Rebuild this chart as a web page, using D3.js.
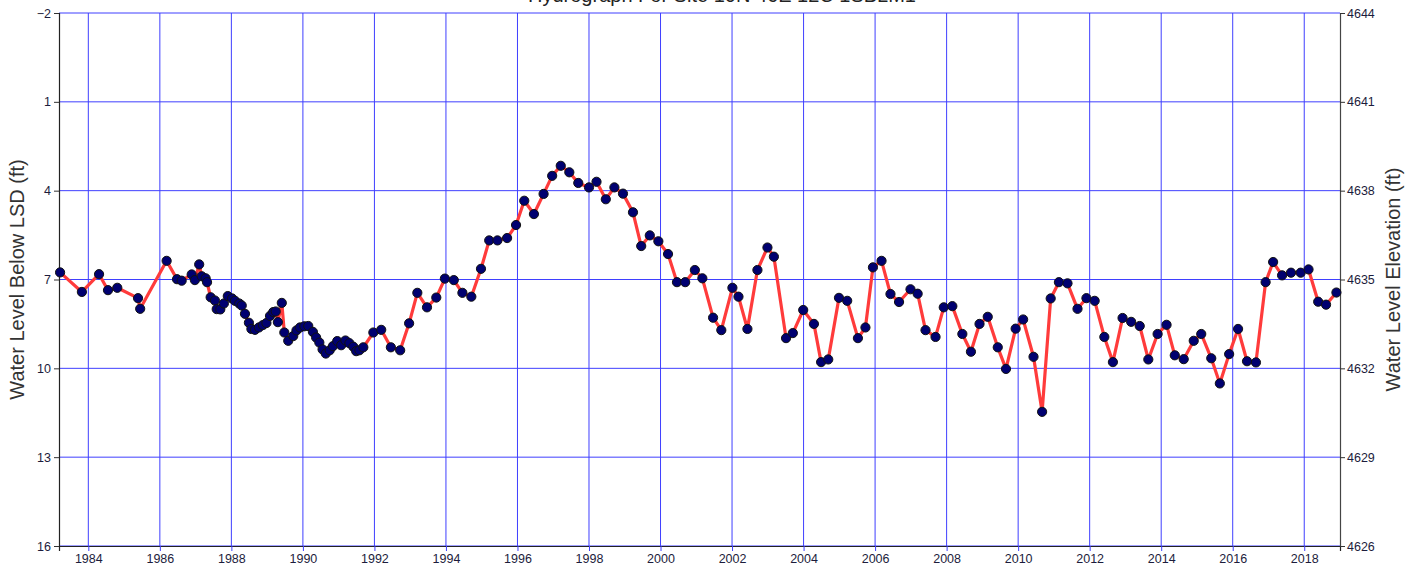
<!DOCTYPE html>
<html>
<head>
<meta charset="utf-8">
<script src="https://cdn.jsdelivr.net/npm/d3@7"></script>
<style>
  body { margin: 0; background: #fff; }
  text { font-family: "Liberation Sans", Arial, sans-serif; }
</style>
</head>
<body>
<div id="chart"></div>
<script>
const title = "Hydrograph For Site 10N 46E 12C 1SBLM1";
const yLabelLeft = "Water Level Below LSD (ft)";
const yLabelRight = "Water Level Elevation (ft)";
const xTicks = [1984, 1986, 1988, 1990, 1992, 1994, 1996, 1998, 2000, 2002, 2004, 2006, 2008, 2010, 2012, 2014, 2016, 2018];
const depthTicks = [-2, 1, 4, 7, 10, 13, 16];
const elevTicks = [4644, 4641, 4638, 4635, 4632, 4629, 4626];

// decimal year of each measurement
const years = [
  1983.21, 1983.82, 1984.30, 1984.55, 1984.81, 1985.39, 1985.45, 1986.19, 1986.48, 1986.61,
  1986.89, 1986.98, 1987.10, 1987.17, 1987.28, 1987.32, 1987.42, 1987.54, 1987.59, 1987.69,
  1987.79, 1987.90, 1988.02, 1988.10, 1988.22, 1988.29, 1988.38, 1988.49, 1988.56, 1988.66,
  1988.77, 1988.88, 1988.98, 1989.08, 1989.17, 1989.24, 1989.30, 1989.41, 1989.48, 1989.59,
  1989.73, 1989.82, 1989.92, 1990.04, 1990.15, 1990.28, 1990.37, 1990.46, 1990.55, 1990.64,
  1990.75, 1990.84, 1990.96, 1991.07, 1991.19, 1991.30, 1991.41, 1991.49, 1991.58, 1991.69,
  1991.97, 1992.19, 1992.46, 1992.72, 1992.97, 1993.20, 1993.47, 1993.73, 1993.97, 1994.22,
  1994.46, 1994.71, 1994.98, 1995.21, 1995.44, 1995.71, 1995.96, 1996.19, 1996.46, 1996.73,
  1996.97, 1997.21, 1997.45, 1997.70, 1998.00, 1998.21, 1998.47, 1998.71, 1998.95, 1999.23,
  1999.46, 1999.70, 1999.94, 2000.21, 2000.46, 2000.69, 2000.96, 2001.17, 2001.47, 2001.70,
  2002.01, 2002.18, 2002.43, 2002.71, 2002.99, 2003.17, 2003.51, 2003.70, 2003.99, 2004.29,
  2004.49, 2004.69, 2004.99, 2005.22, 2005.52, 2005.73, 2005.94, 2006.18, 2006.43, 2006.67,
  2006.99, 2007.19, 2007.41, 2007.69, 2007.92, 2008.16, 2008.44, 2008.68, 2008.92, 2009.15,
  2009.43, 2009.66, 2009.93, 2010.14, 2010.43, 2010.67, 2010.91, 2011.14, 2011.38, 2011.66,
  2011.91, 2012.14, 2012.41, 2012.65, 2012.92, 2013.16, 2013.40, 2013.64, 2013.90, 2014.15,
  2014.38, 2014.63, 2014.91, 2015.12, 2015.40, 2015.64, 2015.90, 2016.15, 2016.40, 2016.65,
  2016.92, 2017.13, 2017.38, 2017.63, 2017.90, 2018.12, 2018.39, 2018.61, 2018.90
];

// water level below land surface (ft)
const depths = [
  6.76, 7.42, 6.82, 7.36, 7.28, 7.63, 7.99, 6.37, 6.99, 7.04,
  6.83, 7.02, 6.49, 6.89, 6.96, 7.09, 7.60, 7.71, 8.00, 8.01,
  7.81, 7.56, 7.64, 7.72, 7.81, 7.88, 8.16, 8.46, 8.67, 8.70,
  8.62, 8.54, 8.47, 8.23, 8.10, 8.08, 8.44, 7.79, 8.79, 9.07,
  8.91, 8.72, 8.62, 8.58, 8.57, 8.77, 8.96, 9.13, 9.36, 9.50,
  9.39, 9.25, 9.08, 9.22, 9.06, 9.15, 9.27, 9.42, 9.39, 9.29,
  8.79, 8.70, 9.29, 9.39, 8.48, 7.45, 7.94, 7.61, 6.97, 7.02,
  7.45, 7.58, 6.64, 5.68, 5.68, 5.60, 5.16, 4.34, 4.79, 4.11,
  3.50, 3.16, 3.38, 3.74, 3.89, 3.70, 4.29, 3.89, 4.10, 4.73,
  5.87, 5.51, 5.71, 6.14, 7.09, 7.09, 6.68, 6.96, 8.29, 8.71,
  7.28, 7.58, 8.67, 6.68, 5.92, 6.23, 8.98, 8.81, 8.03, 8.50,
  9.79, 9.70, 7.62, 7.72, 8.98, 8.62, 6.59, 6.37, 7.49, 7.76,
  7.33, 7.48, 8.71, 8.94, 7.94, 7.90, 8.84, 9.44, 8.50, 8.26,
  9.29, 10.02, 8.66, 8.35, 9.61, 11.47, 7.64, 7.09, 7.13, 7.99,
  7.63, 7.72, 8.94, 9.79, 8.30, 8.43, 8.57, 9.70, 8.84, 8.53,
  9.56, 9.69, 9.07, 8.84, 9.66, 10.51, 9.52, 8.67, 9.76, 9.80,
  7.09, 6.41, 6.86, 6.77, 6.77, 6.66, 7.75, 7.85, 7.44
];

const width = 1419, height = 571;
const margin = {top: 13, right: 79, bottom: 25, left: 59};
const innerWidth = width - margin.left - margin.right;
const innerHeight = height - margin.top - margin.bottom;

const svg = d3.select("#chart").append("svg")
    .attr("width", width)
    .attr("height", height);

const chart = svg.append("g")
    .attr("transform", `translate(${margin.left}, ${margin.top})`);

const x = d3.scaleLinear().domain([1983.18, 2019.0]).range([0, innerWidth]);
const y = d3.scaleLinear().domain([-2, 16]).range([0, innerHeight]);
const yElev = d3.scaleLinear().domain([4644, 4626]).range([0, innerHeight]);

// grid
chart.append("g").selectAll("line").data(xTicks).join("line")
    .attr("x1", d => x(d)).attr("x2", d => x(d))
    .attr("y1", 0).attr("y2", innerHeight)
    .attr("stroke", "#3f3fff").attr("stroke-width", 1);
chart.append("g").selectAll("line").data(depthTicks).join("line")
    .attr("x1", 0).attr("x2", innerWidth)
    .attr("y1", d => y(d)).attr("y2", d => y(d))
    .attr("stroke", "#3f3fff").attr("stroke-width", 1);

// axes
const xAxis = d3.axisBottom(x).tickValues(xTicks).tickFormat(d3.format("d")).tickSize(5).tickPadding(3);
const yAxis = d3.axisLeft(y).tickValues(depthTicks).tickSize(5).tickPadding(3);
const yAxisRight = d3.axisRight(yElev).tickValues(elevTicks).tickFormat(d3.format("d")).tickSize(5).tickPadding(2);

const gx = chart.append("g").attr("transform", `translate(0, ${innerHeight})`).call(xAxis);
const gy = chart.append("g").call(yAxis);
const gr = chart.append("g").attr("transform", `translate(${innerWidth}, 0)`).call(yAxisRight);

[gx, gy, gr].forEach(g => {
    g.select(".domain").attr("stroke", "#222").attr("stroke-width", 1.2);
    g.selectAll(".tick line").attr("stroke", "#333");
    g.selectAll(".tick text").attr("fill", "#1c1c3c")
        .style("font-size", "12.5px")
        .style("font-family", "'Liberation Sans', Arial, sans-serif");
});
gx.selectAll(".tick line").attr("stroke", "#3f3fff");
gr.select(".domain").attr("stroke", "#444");

// series
const points = years.map((d, i) => ({year: d, depth: depths[i]}));

const plot = chart.append("g");
plot.append("path")
    .datum(points)
    .attr("fill", "none")
    .attr("stroke", "#ff3b3b")
    .attr("stroke-width", 3.2)
    .attr("stroke-linejoin", "round")
    .attr("d", d3.line().x(d => x(d.year)).y(d => y(d.depth)));

plot.selectAll("circle").data(points).join("circle")
    .attr("cx", d => x(d.year))
    .attr("cy", d => y(d.depth))
    .attr("r", 4.6)
    .attr("fill", "#000070")
    .attr("stroke", "#111")
    .attr("stroke-width", 1);

// titles
svg.append("text")
    .attr("x", 722).attr("y", 2)
    .attr("text-anchor", "middle")
    .style("font-size", "20px")
    .attr("fill", "#222")
    .text(title);

svg.append("text")
    .attr("transform", `translate(24, ${margin.top + innerHeight / 2}) rotate(-90)`)
    .attr("text-anchor", "middle")
    .style("font-size", "20px")
    .attr("fill", "#333")
    .text(yLabelLeft);

svg.append("text")
    .attr("transform", `translate(1400, ${margin.top + innerHeight / 2}) rotate(-90)`)
    .attr("text-anchor", "middle")
    .style("font-size", "20px")
    .attr("fill", "#333")
    .text(yLabelRight);
</script>
</body>
</html>
